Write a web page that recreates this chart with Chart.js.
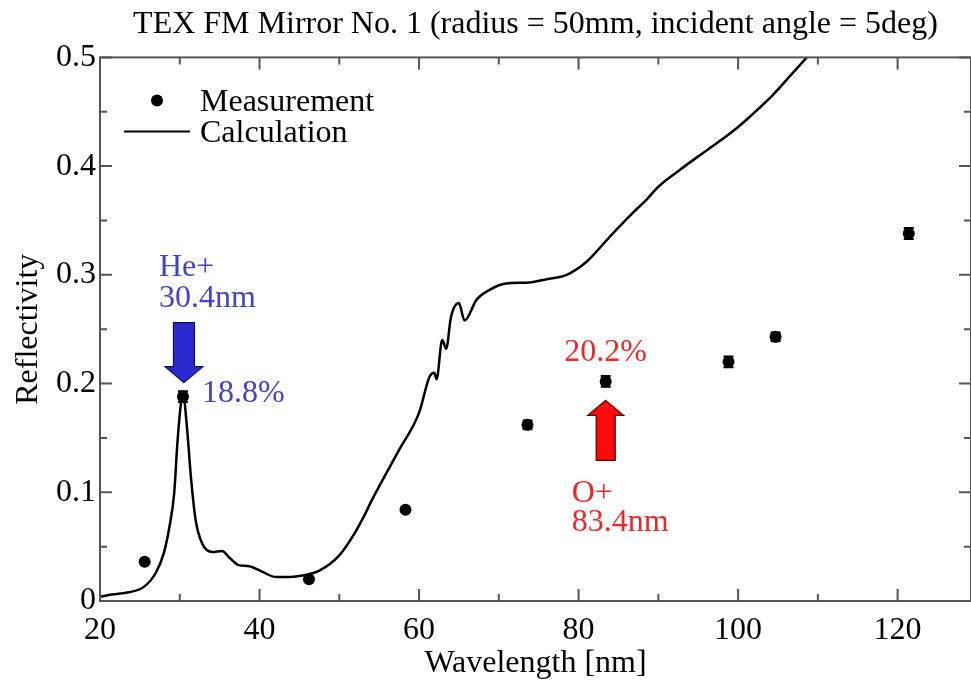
<!DOCTYPE html>
<html>
<head>
<meta charset="utf-8">
<script src="https://cdn.jsdelivr.net/npm/chart.js@4.4.1/dist/chart.umd.min.js"></script>
<style>
  html, body { margin: 0; padding: 0; background: #fff; }
  #chart { display: block; }
</style>
</head>
<body>
<canvas id="chart" width="971" height="684"></canvas>
<script>
// measured reflectivity
const measWavelength = [25.6, 30.4, 46.2, 58.3, 73.6, 83.4, 98.8, 104.7, 121.4];
const measReflect    = [0.036, 0.188, 0.020, 0.084, 0.162, 0.202, 0.220, 0.243, 0.338];
const measError      = [0, 0.005, 0, 0, 0.004, 0.005, 0.005, 0.004, 0.005];

// calculated curve
const calcWavelength = [20.0, 21.5, 23.6, 25.5, 27.0, 28.0, 28.7, 29.3, 29.7, 30.2, 30.4, 30.9, 31.4, 32.0, 32.8,
  34.1, 35.3, 36.2, 37.4, 38.7, 40.3, 42.1, 43.7, 45.0, 47.5, 50.0, 51.9, 53.1, 54.1, 57.5, 60.0,
  61.3, 61.9, 62.2, 62.9, 63.4, 64.0, 65.0, 65.7, 67.2, 68.8, 70.9, 73.8, 76.0, 78.5, 81.0, 83.9,
  86.8, 88.5, 90.0, 92.6, 95.2, 97.7, 100.0, 101.4, 103.9, 106.4, 108.6, 110.0];
const calcReflect = [0.004, 0.006, 0.008, 0.013, 0.026, 0.044, 0.068, 0.099, 0.145, 0.185, 0.191, 0.160, 0.114, 0.074, 0.053,
  0.045, 0.046, 0.040, 0.033, 0.032, 0.027, 0.022, 0.022, 0.023, 0.028, 0.042, 0.062, 0.078, 0.093, 0.139, 0.173,
  0.206, 0.210, 0.204, 0.240, 0.232, 0.261, 0.274, 0.258, 0.277, 0.286, 0.292, 0.293, 0.296, 0.300, 0.312, 0.335,
  0.357, 0.369, 0.381, 0.396, 0.410, 0.423, 0.436, 0.445, 0.462, 0.482, 0.500, 0.512];

const xMin = 20, xMax = 129.2;
const yMin = 0, yMax = 0.5;
const xTickLabels = [20, 40, 60, 80, 100, 120];
const yTickLabels = ['0', '0.1', '0.2', '0.3', '0.4', '0.5'];

const FONT = '"Liberation Serif", "Times New Roman", serif';
Chart.defaults.font.family = FONT;
Chart.defaults.color = '#000';

const axisColor = '#555';

// box around the plot with inward ticks on all four sides
const frame = {
  id: 'frame',
  afterDatasetsDraw(chart) {
    const { ctx, chartArea: a, scales: { x, y } } = chart;
    ctx.save();
    ctx.strokeStyle = axisColor;
    ctx.lineWidth = 2;
    ctx.strokeRect(a.left, a.top, a.right - a.left, a.bottom - a.top);
    ctx.beginPath();
    for (let v = xMin; v <= xMax; v += 10) {
      const len = v % 20 === 0 ? 12 : 7;
      const px = x.getPixelForValue(v);
      ctx.moveTo(px, a.bottom); ctx.lineTo(px, a.bottom - len);
      ctx.moveTo(px, a.top); ctx.lineTo(px, a.top + len);
    }
    for (let i = 0; i <= 10; i++) {
      const len = i % 2 === 0 ? 12 : 7;
      const py = y.getPixelForValue(i * 0.05);
      ctx.moveTo(a.left, py); ctx.lineTo(a.left + len, py);
      ctx.moveTo(a.right, py); ctx.lineTo(a.right - len, py);
    }
    ctx.stroke();
    ctx.restore();
  }
};

// small vertical error bars on the measurements
const errorBars = {
  id: 'errorBars',
  afterDatasetsDraw(chart) {
    const { ctx, scales: { x, y } } = chart;
    ctx.save();
    ctx.strokeStyle = '#000';
    ctx.lineWidth = 2;
    measWavelength.forEach((w, i) => {
      if (!measError[i]) return;
      const px = x.getPixelForValue(w);
      const top = y.getPixelForValue(measReflect[i] + measError[i]);
      const bot = y.getPixelForValue(measReflect[i] - measError[i]);
      ctx.beginPath();
      ctx.moveTo(px, top); ctx.lineTo(px, bot);
      ctx.moveTo(px - 5, top); ctx.lineTo(px + 5, top);
      ctx.moveTo(px - 5, bot); ctx.lineTo(px + 5, bot);
      ctx.stroke();
    });
    ctx.restore();
  }
};

// legend inside the plot, top left
const insideLegend = {
  id: 'insideLegend',
  afterDraw(chart) {
    const { ctx, chartArea: a } = chart;
    ctx.save();
    ctx.font = '32px ' + FONT;
    ctx.fillStyle = '#000';
    ctx.textBaseline = 'middle';
    ctx.beginPath();
    ctx.arc(a.left + 57, a.top + 43, 6, 0, Math.PI * 2);
    ctx.fill();
    ctx.fillText('Measurement', a.left + 100, a.top + 45);
    ctx.strokeStyle = '#000';
    ctx.lineWidth = 2;
    ctx.beginPath();
    ctx.moveTo(a.left + 24, a.top + 74);
    ctx.lineTo(a.left + 90, a.top + 74);
    ctx.stroke();
    ctx.fillText('Calculation', a.left + 100, a.top + 76);
    ctx.restore();
  }
};

function arrow(ctx, cx, tipY, dir, len, headLen, headHalf, shaftHalf, fill, stroke) {
  // dir = 1 points down, -1 points up
  const baseY = tipY - dir * headLen;
  const endY = tipY - dir * len;
  ctx.beginPath();
  ctx.moveTo(cx, tipY);
  ctx.lineTo(cx + headHalf, baseY);
  ctx.lineTo(cx + shaftHalf, baseY);
  ctx.lineTo(cx + shaftHalf, endY);
  ctx.lineTo(cx - shaftHalf, endY);
  ctx.lineTo(cx - shaftHalf, baseY);
  ctx.lineTo(cx - headHalf, baseY);
  ctx.closePath();
  ctx.fillStyle = fill;
  ctx.fill();
  ctx.strokeStyle = stroke;
  ctx.lineWidth = 1.2;
  ctx.stroke();
}

// He+ and O+ line markers
const lineNotes = {
  id: 'lineNotes',
  afterDraw(chart) {
    const { ctx, scales: { x, y } } = chart;
    ctx.save();
    ctx.font = '32px ' + FONT;
    ctx.textBaseline = 'middle';

    const hx = x.getPixelForValue(measWavelength[1]);
    const hy = y.getPixelForValue(measReflect[1]);
    arrow(ctx, hx + 1, hy - 14, 1, 60, 16, 19, 10.5, '#2a2ad0', '#101050');
    ctx.fillStyle = '#4343c3';
    ctx.textAlign = 'left';
    ctx.fillText('He+', hx - 24, hy - 129);
    ctx.fillText('30.4nm', hx - 24, hy - 98);
    ctx.fillText('18.8%', hx + 19, hy - 3);

    const ox = x.getPixelForValue(measWavelength[5]);
    const oy = y.getPixelForValue(measReflect[5]);
    arrow(ctx, ox, oy + 19, -1, 60, 15, 18, 9.5, '#ff0a0a', '#500000');
    ctx.fillStyle = '#e52b2b';
    ctx.textAlign = 'center';
    ctx.fillText('20.2%', ox, oy - 29);
    ctx.textAlign = 'left';
    ctx.fillText('O+', ox - 34, oy + 112);
    ctx.fillText('83.4nm', ox - 34, oy + 141);
    ctx.restore();
  }
};

const ctx = document.getElementById('chart');

new Chart(ctx, {
  type: 'scatter',
  data: {
    datasets: [
      {
        label: 'Calculation',
        type: 'line',
        data: calcWavelength.map((w, i) => ({ x: w, y: calcReflect[i] })),
        borderColor: '#000',
        borderWidth: 2.5,
        pointRadius: 0,
        cubicInterpolationMode: 'monotone',
        fill: false
      },
      {
        label: 'Measurement',
        data: measWavelength.map((w, i) => ({ x: w, y: measReflect[i] })),
        backgroundColor: '#000',
        borderWidth: 0,
        pointRadius: 6
      }
    ]
  },
  options: {
    responsive: false,
    animation: false,
    events: [],
    layout: { padding: 0, autoPadding: false },
    plugins: {
      legend: { display: false },
      tooltip: { enabled: false },
      title: {
        display: true,
        fullSize: false,
        text: 'TEX FM Mirror No. 1 (radius = 50mm, incident angle = 5deg)',
        font: { size: 32, weight: 'normal' },
        color: '#000',
        padding: { top: 5, bottom: 14 }
      }
    },
    scales: {
      x: {
        type: 'linear',
        min: xMin,
        max: xMax,
        afterFit(s) { s.height = 83; s.paddingLeft = 0; s.paddingRight = 0; },
        afterBuildTicks(s) { s.ticks = xTickLabels.map(v => ({ value: v })); },
        grid: { display: false, drawTicks: false },
        border: { display: false },
        ticks: { font: { size: 32 }, padding: 10, color: '#000', maxRotation: 0 },
        title: {
          display: true,
          text: 'Wavelength [nm]',
          font: { size: 32 },
          color: '#000',
          padding: { top: 0, bottom: 1 }
        }
      },
      y: {
        min: yMin,
        max: yMax,
        afterFit(s) { s.width = 100; },
        afterBuildTicks(s) { s.ticks = yTickLabels.map(v => ({ value: parseFloat(v) })); },
        grid: { display: false, drawTicks: false },
        border: { display: false },
        ticks: {
          font: { size: 32 },
          padding: 4,
          color: '#000',
          callback: (v) => yTickLabels.find(t => parseFloat(t) === v)
        },
        title: {
          display: true,
          text: 'Reflectivity',
          font: { size: 32 },
          color: '#000',
          padding: { top: 9, bottom: 0 }
        }
      }
    }
  },
  plugins: [frame, errorBars, insideLegend, lineNotes]
});
</script>
</body>
</html>
